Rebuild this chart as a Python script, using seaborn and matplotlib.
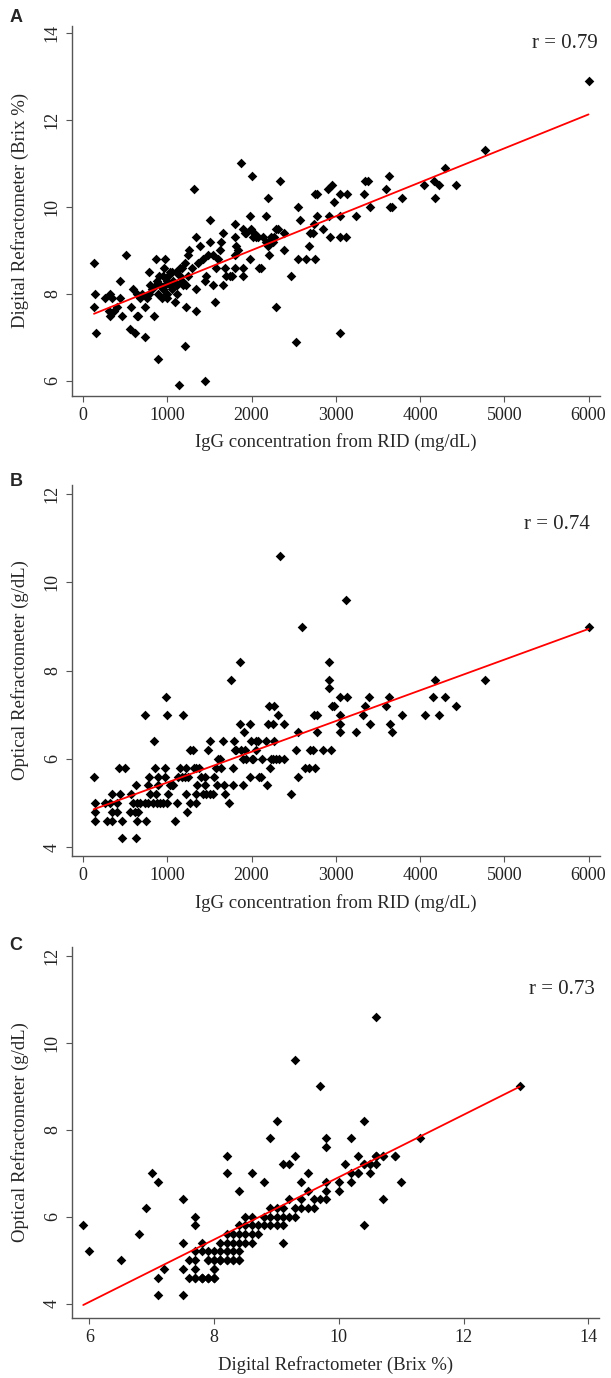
import numpy as np
import matplotlib
matplotlib.use("Agg")
import matplotlib.pyplot as plt
import seaborn as sns

# ------------------------------
# Data
# ------------------------------

# Panel A: IgG (RID, mg/dL) vs digital refractometer (Brix %)
a_igg = [130, 146, 134, 154, 256, 323, 343, 303, 323, 362, 402, 433, 441, 461, 508,
         559, 571, 598, 618, 638, 657, 638, 677, 697, 736, 736, 756, 787, 795, 843,
         862, 866, 874, 913, 953, 972, 992, 1031, 1071, 1110, 1150, 1189, 1228, 894,
         933, 992, 1031, 972, 1051, 1091, 1150, 1169, 1209, 1248, 1260, 1228, 1346,
         1346, 1366, 1386, 1445, 1465, 1504, 1543, 1543, 1563, 1583, 1602, 1622, 1642,
         1661, 1661, 1681, 1701, 1740, 1772, 1799, 1799, 1799, 1819, 1839, 1799, 1898,
         1898, 1898, 1917, 1937, 1976, 1996, 2016, 2035, 2055, 2075, 2094, 2114, 2134,
         2173, 2193, 2213, 2213, 2232, 2252, 2272, 2291, 2311, 2390, 2390, 1315, 1870,
         2008, 2339, 1504, 2193, 1976, 2173, 2547, 2575, 2291, 2468, 2528, 2547, 894,
         1209, 1142, 1445, 1346, 900, 950, 1000, 1010, 1060, 1120, 1180, 820, 960,
         1100, 780, 1250, 1290, 1420, 1480,
         6000, 4768, 4300, 4051, 4162, 4221, 4431, 4182, 3627, 3596, 3786, 3639, 3667,
         3342, 3382, 3330, 3410, 3243, 3053, 3053, 3132, 2974, 2954, 2907, 2756, 2776,
         2776, 2736, 2847, 2697, 2728, 2677, 2934, 3045, 3125, 2649, 2756, 2915, 3045]
a_brix = [8.7, 8.0, 7.7, 7.1, 7.9, 8.0, 7.9, 7.6, 7.5, 7.6, 7.7, 7.9, 8.3, 7.5, 8.9,
          7.2, 7.7, 8.1, 7.1, 7.5, 7.5, 8.0, 7.9, 8.0, 7.7, 7.0, 7.9, 8.5, 8.2, 7.5,
          8.8, 8.2, 8.3, 8.2, 8.4, 8.2, 8.3, 8.2, 8.3, 8.2, 8.4, 8.2, 8.2, 8.0,
          7.9, 7.9, 8.5, 8.8, 8.5, 7.8, 8.6, 8.6, 8.7, 8.9, 9.0, 7.7, 7.6,
          8.1, 8.7, 9.1, 8.3, 8.4, 9.2, 8.2, 8.9, 7.8, 8.6, 8.8, 9.0, 9.2,
          9.4, 8.2, 8.6, 8.4, 8.4, 8.4, 8.6, 8.9, 9.3, 9.1, 9.0, 9.6, 8.4,
          8.6, 9.5, 9.4, 9.4, 8.8, 9.5, 9.3, 9.4, 9.3, 9.3, 8.6, 8.6, 9.3,
          9.2, 9.1, 8.9, 9.2, 9.3, 9.2, 9.3, 9.5, 9.5, 9.0, 9.4, 10.4, 11.0,
          10.7, 10.6, 9.7, 10.2, 9.8, 9.8, 10.0, 9.7, 7.7, 8.4, 6.9, 8.8, 6.5,
          6.8, 5.9, 6.0, 9.3, 8.4, 8.1, 8.0, 8.4, 8.1, 8.0, 8.3, 8.1, 8.6,
          8.5, 8.0, 8.4, 8.6, 8.8, 8.9,
          12.9, 11.3, 10.9, 10.5, 10.6, 10.5, 10.5, 10.2, 10.7, 10.4, 10.2, 10.0, 10.0,
          10.6, 10.6, 10.3, 10.0, 9.8, 9.8, 10.3, 10.3, 10.1, 10.5, 10.4, 10.3, 10.3,
          9.8, 9.6, 9.5, 9.4, 9.4, 9.1, 9.3, 9.3, 9.3, 8.8, 8.8, 9.8, 7.1]

# Panel B: IgG (RID, mg/dL) vs optical refractometer (g/dL)
b_igg = [126, 146, 146, 146, 256, 343, 323, 343, 283, 343, 402, 441, 402, 461, 461,
         421, 500, 571, 559, 598, 618, 638, 657, 630, 638, 630, 736, 748, 677, 736,
         776, 776, 783, 795, 835, 843, 854, 866, 882, 894, 894, 913, 945, 972, 972,
         984, 1000, 992, 1012, 1031, 1051, 1071, 1091, 1110, 1130, 1150, 1169, 1181,
         1209, 1220, 1228, 1236, 1248, 1268, 1268, 1307, 1315, 1339, 1346, 1346, 1354,
         1378, 1406, 1425, 1445, 1445, 1465, 1484, 1504, 1512, 1543, 1551, 1583, 1591,
         1602, 1622, 1642, 1661, 1669, 1681, 1732, 1760, 1780, 1780, 1787, 1799, 1819,
         1858, 1866, 1878, 1898, 1898, 1906, 1917, 1937, 1976, 1976, 1996, 2008, 2016,
         2055, 2055, 2075, 2094, 2114, 2126, 2173, 2181, 2193, 2205, 2224, 2232, 2252,
         2260, 2272, 2272, 2291, 2311, 2331, 2390, 2390, 2469, 2528, 2547, 2547, 2340,
         6000, 4768, 4182, 4154, 4301, 4431, 4055, 4221, 3786, 3627, 3600, 3639, 3667,
         3390, 3342, 3322, 3410, 3243, 3053, 3132, 3053, 3045, 3053, 2954, 2974, 2915,
         2915, 2915, 2736, 2776, 2776, 2697, 2728, 2847, 2942, 2637, 2677, 2756, 2598,
         3125]
b_optical = [5.6, 5.0, 4.8, 4.6, 5.0, 5.2, 5.0, 4.8, 4.6, 4.6, 4.8, 5.2, 5.0, 4.6, 4.2,
             5.8, 5.8, 5.2, 4.8, 5.0, 4.8, 5.0, 4.8, 5.4, 4.6, 4.2, 7.0, 4.6, 5.0, 5.0,
             5.0, 5.4, 5.6, 5.2, 5.0, 6.4, 5.8, 5.2, 5.0, 5.6, 5.4, 5.0, 5.0, 5.8, 5.6,
             7.4, 7.0, 5.0, 5.2, 5.4, 5.4, 5.4, 4.6, 5.0, 5.6, 5.8, 5.6, 7.0,
             5.6, 5.8, 5.2, 4.8, 5.6, 5.0, 6.2, 6.2, 5.8, 5.8, 5.2, 5.0, 5.4,
             5.8, 5.6, 5.2, 5.6, 5.4, 5.2, 6.2, 6.4, 5.2, 5.2, 5.6, 5.8, 5.4,
             6.0, 6.0, 5.8, 6.4, 5.4, 5.2, 5.0, 7.8, 5.4, 5.8, 6.4, 6.2, 6.2,
             8.2, 6.8, 6.2, 5.4, 6.0, 6.6, 6.2, 6.0, 6.8, 5.6, 6.4, 6.0, 6.0,
             6.2, 6.4, 6.4, 5.6, 5.6, 6.0, 6.4, 5.4, 6.8, 7.2, 5.8, 6.0, 6.0,
             6.8, 7.2, 6.4, 6.0, 7.0, 6.0, 6.0, 6.8, 5.2, 6.2, 6.6, 5.6, 10.6,
             9.0, 7.8, 7.8, 7.4, 7.4, 7.2, 7.0, 7.0, 7.0, 7.4, 7.2, 6.8, 6.6,
             7.4, 7.2, 7.0, 6.8, 6.6, 7.4, 7.4, 7.0, 6.8, 6.6, 7.2, 7.2, 8.2,
             7.8, 7.6, 7.0, 7.0, 6.6, 6.2, 6.2, 6.2, 6.2, 5.8, 5.8, 5.8, 9.0,
             9.6]

# Panel C: digital refractometer (Brix %) vs optical refractometer (g/dL)
# (many readings are tied, so several pairs repeat on the same spot)
c_brix = [5.9, 6.0, 6.5, 6.8, 6.9, 7.0, 7.1, 7.5, 7.5, 7.7, 7.7, 7.8, 8.2, 8.2, 8.4,
          8.6, 8.8, 8.9, 9.0, 9.3, 9.7, 9.8, 9.8, 9.3, 9.1, 9.2, 9.5, 9.4, 9.5, 9.8,
          9.1,
          9.2, 9.4, 9.6, 9.7, 9.8,
          8.9, 9.0, 9.1, 9.3, 9.4, 9.5, 9.6,
          8.5, 8.6, 8.8, 8.9, 9.0, 9.1, 9.2, 9.3,
          8.4, 8.5, 8.6, 8.7, 8.8, 8.9, 9.0, 9.1,
          8.2, 8.3, 8.4, 8.5, 8.6, 8.7,
          8.1, 8.2, 8.3, 8.4, 8.5, 8.6,
          7.9, 8.0, 8.1, 8.2, 8.3, 8.4, 7.7, 7.8,
          7.9, 8.0, 8.1, 8.2, 8.3, 8.4, 7.6, 7.7,
          7.1, 7.6, 7.7, 7.8, 7.9, 8.0,
          7.2, 7.5, 7.7, 8.0,
          7.1, 7.5,
          12.9, 11.3, 10.6, 10.4, 10.2, 10.3, 10.1, 10.6, 10.7, 10.9, 10.4, 10.5, 10.6,
          10.2, 10.3, 10.5, 10.0, 10.2, 11.0, 10.0, 9.8, 10.7, 10.4,
          # repeated readings
          7.8, 7.9, 8.0, 7.9, 8.0, 8.1, 7.7, 7.8, 8.0, 8.1, 8.2, 8.2, 8.3, 8.4,
          7.9, 8.0, 7.8, 8.1,
          10.4, 10.5, 10.6, 10.6, 10.9, 10.3, 10.7]
c_optical = [5.8, 5.2, 5.0, 5.6, 6.2, 7.0, 6.8, 6.4, 5.4, 6.0, 5.8, 5.4, 7.4, 7.0, 6.6,
             7.0, 6.8, 7.8, 8.2, 9.6, 9.0, 7.8, 7.6, 7.4, 7.2, 7.2, 7.0, 6.8, 6.6, 6.8,
             5.4,
             6.4, 6.4, 6.4, 6.4, 6.4,
             6.2, 6.2, 6.2, 6.2, 6.2, 6.2, 6.2,
             6.0, 6.0, 6.0, 6.0, 6.0, 6.0, 6.0, 6.0,
             5.8, 5.8, 5.8, 5.8, 5.8, 5.8, 5.8, 5.8,
             5.6, 5.6, 5.6, 5.6, 5.6, 5.6,
             5.4, 5.4, 5.4, 5.4, 5.4, 5.4,
             5.2, 5.2, 5.2, 5.2, 5.2, 5.2, 5.2, 5.2,
             5.0, 5.0, 5.0, 5.0, 5.0, 5.0, 5.0, 5.0,
             4.6, 4.6, 4.6, 4.6, 4.6, 4.6,
             4.8, 4.8, 4.8, 4.8,
             4.2, 4.2,
             9.0, 7.8, 10.6, 8.2, 7.8, 7.4, 7.2, 7.4, 7.4, 7.4, 7.2, 7.2, 7.2,
             7.0, 7.0, 7.0, 6.8, 6.8, 6.8, 6.6, 6.6, 6.4, 5.8,
             4.6, 4.6, 4.6, 5.0, 5.0, 5.0, 4.6, 4.6, 4.8, 5.0, 5.0, 5.2, 5.0, 5.0,
             4.6, 4.6, 4.6, 5.0,
             7.2, 7.2, 7.4, 7.4, 7.4, 7.0, 7.4]

r_labels = ["r = 0.79", "r = 0.74", "r = 0.73"]
panel_letters = ["A", "B", "C"]

# ------------------------------
# Figure
# ------------------------------

sns.set_style("ticks")
serif = ["Liberation Serif", "DejaVu Serif"]
plt.rcParams["font.family"] = serif

W, H = 611, 1378
fig = plt.figure(figsize=(W / 100, H / 100), dpi=100)

# axes boxes in pixels: left, top, right, bottom
boxes = [(72, 26, 599.5, 395.5), (72, 485, 599.5, 856), (72, 947, 599.5, 1318)]
panels = [
    (a_igg, a_brix, (-131, 6130), (5.66, 14.16), [0, 1000, 2000, 3000, 4000, 5000, 6000],
     [6, 8, 10, 12, 14], "IgG concentration from RID (mg/dL)", "Digital Refractometer (Brix %)"),
    (b_igg, b_optical, (-131, 6130), (3.8, 12.21), [0, 1000, 2000, 3000, 4000, 5000, 6000],
     [4, 6, 8, 10, 12], "IgG concentration from RID (mg/dL)", "Optical Refractometer (g/dL)"),
    (c_brix, c_optical, (5.72, 14.18), (3.67, 12.2), [6, 8, 10, 12, 14],
     [4, 6, 8, 10, 12], "Digital Refractometer (Brix %)", "Optical Refractometer (g/dL)"),
]
r_pos = [(598, 44), (590, 524), (595, 990)]
letter_pos = [(16, 18), (16, 481), (16, 945)]

for i, (box, p) in enumerate(zip(boxes, panels)):
    l, t, r, b = box
    ax = fig.add_axes([l / W, 1 - b / H, (r - l) / W, (b - t) / H])
    xs, ys, xlim, ylim, xt, yt, xlab, ylab = p

    sns.regplot(x=np.array(xs), y=np.array(ys), ax=ax, ci=None, marker="D",
                scatter_kws=dict(s=24, color="black", linewidths=0, alpha=1),
                line_kws=dict(color="red", lw=1.3))

    ax.set_xlim(xlim)
    ax.set_ylim(ylim)
    ax.set_xticks(xt)
    ax.set_yticks(yt)
    ax.tick_params(direction="out", length=4, width=0.8, color="#555555",
                   labelsize=13, labelcolor="#222222", pad=4)
    ax.tick_params(axis="y", labelrotation=90)
    for lab in ax.get_yticklabels():
        lab.set_verticalalignment("center")
    sns.despine(ax=ax)
    for s in ["left", "bottom"]:
        ax.spines[s].set_color("#555555")
        ax.spines[s].set_linewidth(1.0)

    ax.set_xlabel(xlab, fontsize=13.5, va="center")
    ax.set_ylabel(ylab, fontsize=13.5, va="center")
    ax.xaxis.set_label_coords(0.5, -47 / (b - t))
    ax.yaxis.set_label_coords((20 - l) / (r - l), 0.5)

    rx, ry = r_pos[i]
    fig.text(rx / W, 1 - ry / H, r_labels[i], ha="right", va="center", fontsize=15)
    lx, ly = letter_pos[i]
    fig.text(lx / W, 1 - ly / H, panel_letters[i], ha="center", va="center",
             fontsize=13, fontweight="bold", family=["Liberation Sans", "DejaVu Sans"])

fig.savefig("out.png", dpi=100)
